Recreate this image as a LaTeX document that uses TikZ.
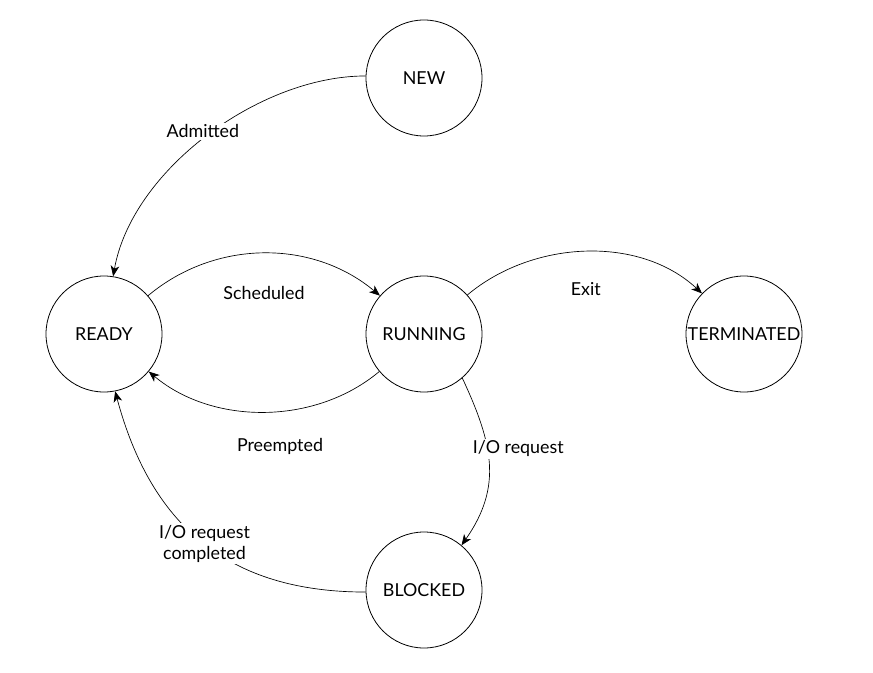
\documentclass[tikz,border=0pt]{standalone}
\usepackage{fontspec}
\setmainfont{Lato}
\usepackage{tikz}
\usetikzlibrary{positioning, arrows.meta}

\begin{document}
\begin{tikzpicture}[
                x=0.75pt, y=-0.75pt,
                every node/.style={font=\fontsize{13.4pt}{15.5pt}\selectfont},
                state/.style={circle,draw=black,line width=0.6pt,minimum size=87pt,inner sep=0pt},
                trans/.style={-{Stealth[length=8pt,width=6.5pt,inset=2.3pt]},line width=0.5pt},
                onedge/.style={fill=white,inner sep=1.5pt,align=center},
            ]
            \useasboundingbox (0,0) rectangle (873,673);

            % Define nodes
            \node[state] (New) at (424,78) {NEW};
            \node[state] (Ready) at (104,334) {READY};
            \node[state] (Running) at (424,334) {RUNNING};
            \node[state] (Terminated) at (744,334) {\makebox[0pt]{TERMINATED}};
            \node[state] (Blocked) at (424,590) {BLOCKED};

            % Draw connections
            \draw[trans] (New.178) to[out=180,in=80,looseness=0.85]
                node[onedge,pos=0.47,xshift=-9pt,yshift=-1pt] {Admitted} (Ready.81);
            \draw[trans] (Ready.41) to[out=40,in=140,looseness=0.97]
                node[midway,yshift=-30pt] {Scheduled} (Running.139);
            \draw[trans] (Running.220) to[out=220,in=320,looseness=0.93]
                node[midway,xshift=12pt,yshift=-26pt] {Preempted} (Ready.320);
            \draw[trans] (Running.42) to[out=40,in=137,looseness=0.93]
                node[midway,yshift=-28pt] {Exit} (Terminated.136);
            \draw[trans] (Running.311) to[out=-65,in=55,looseness=1.1]
                node[onedge,pos=0.42,xshift=23pt,yshift=2pt] {I/O request} (Blocked.50);
            \draw[trans] (Blocked.182) to[out=180,in=-75,looseness=1.1]
                node[onedge,pos=0.49] {I/O request\\completed} (Ready.281);

            \end{tikzpicture}
\end{document}
